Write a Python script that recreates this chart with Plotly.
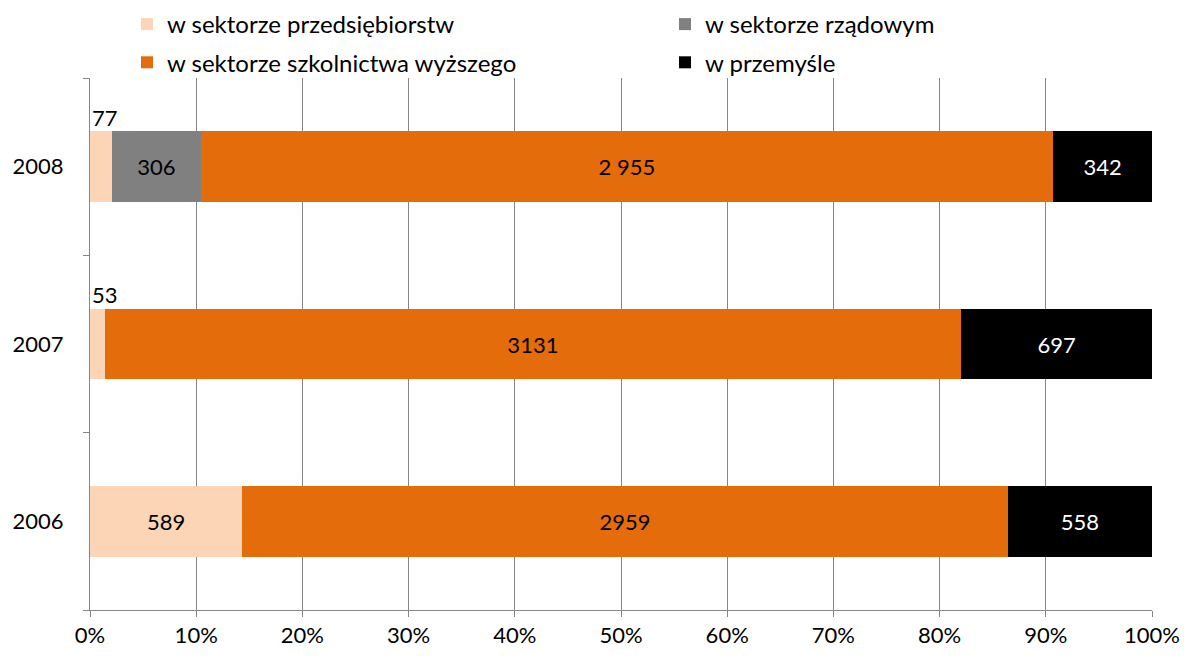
import plotly.graph_objects as go

years = ["2006", "2007", "2008"]

# number of units per sector
przedsiebiorstw = [589, 53, 77]
rzadowy = [0, 0, 306]
szkolnictwo = [2959, 3131, 2955]
przemysl = [558, 697, 342]

names = [
    "w sektorze przedsiębiorstw",
    "w sektorze rządowym",
    "w sektorze szkolnictwa wyższego",
    "w przemyśle",
]
colors = ["#FBD5B5", "#808080", "#E46C0A", "#000000"]

# labels printed inside the bars
przedsiebiorstw_inside = ["589", "", ""]
rzadowy_labels = ["", "", "306"]
szkolnictwo_labels = ["2959", "3131", "2 955"]
przemysl_labels = ["558", "697", "342"]

pct_ticks = list(range(0, 101, 10))
pct_labels = [f"{t}%" for t in pct_ticks]

FONT = "Lato, 'Open Sans', sans-serif"

series = [
    (przedsiebiorstw, przedsiebiorstw_inside, "#000000", "legend"),
    (rzadowy, rzadowy_labels, "#000000", "legend2"),
    (szkolnictwo, szkolnictwo_labels, "#000000", "legend"),
    (przemysl, przemysl_labels, "#FFFFFF", "legend2"),
]

ypos = list(range(len(years)))

fig = go.Figure()
for i, ((vals, labels, tcolor, leg), name, color) in enumerate(zip(series, names, colors)):
    fig.add_trace(go.Bar(
        y=ypos,
        x=vals,
        name=name,
        orientation="h",
        width=0.4,
        marker=dict(color=color, line=dict(width=0)),
        text=labels,
        textposition="inside",
        insidetextanchor="middle",
        textangle=0,
        textfont=dict(family=FONT, size=22, color=tcolor),
        legend=leg,
        legendgroup=f"g{i}",
        hoverinfo="skip",
    ))

# small shares are labelled above the bar start
for yy, v, inside in zip(ypos, przedsiebiorstw, przedsiebiorstw_inside):
    if not inside:
        fig.add_annotation(
            x=0, y=yy, xref="x", yref="y",
            text=str(v), showarrow=False,
            xanchor="left", yanchor="bottom", yshift=34, xshift=0,
            font=dict(family=FONT, size=22, color="#000000"),
        )

legend_common = dict(
    orientation="v",
    yanchor="top",
    font=dict(family=FONT, size=24, color="#000000"),
    traceorder="grouped",
    tracegroupgap=4,
    bgcolor="rgba(0,0,0,0)",
    itemclick=False,
)

fig.update_layout(
    width=1184,
    height=662,
    barmode="stack",
    barnorm="percent",
    paper_bgcolor="white",
    plot_bgcolor="white",
    margin=dict(l=90, r=32, t=78, b=52, autoexpand=False),
    font=dict(family=FONT, size=22, color="#000000"),
    uniformtext=dict(mode="show", minsize=8),
    legend=dict(x=(147 - 90 - 20) / 1062, y=1 + 76 / 532, xanchor="left", **legend_common),
    legend2=dict(x=(685 - 90 - 20) / 1062, y=1 + 76 / 532, xanchor="left", **legend_common),
    showlegend=True,
    xaxis=dict(
        range=[0, 100],
        tickvals=pct_ticks,
        ticktext=pct_labels,
        showgrid=True,
        gridcolor="#868686",
        gridwidth=1,
        showline=True,
        linecolor="#868686",
        linewidth=1,
        ticks="outside",
        ticklen=6,
        tickcolor="#868686",
        tickfont=dict(family=FONT, size=22, color="#000000"),
        zeroline=False,
        fixedrange=True,
    ),
    yaxis=dict(
        range=[-0.5, len(years) - 0.5],
        tickvals=ypos,
        ticktext=years,
        ticks="",
        showgrid=False,
        showline=True,
        linecolor="#868686",
        linewidth=1,
        ticklabelstandoff=21,
        tickfont=dict(family=FONT, size=22, color="#000000"),
        zeroline=False,
        fixedrange=True,
    ),
    # boundary tick marks between the year rows
    yaxis2=dict(
        overlaying="y",
        side="left",
        matches="y",
        tickvals=[p - 0.5 for p in ypos] + [ypos[-1] + 0.5],
        ticktext=["" for _ in range(len(ypos) + 1)],
        ticks="outside",
        ticklen=6,
        tickcolor="#868686",
        showgrid=False,
        showline=False,
        zeroline=False,
        fixedrange=True,
    ),
)

# invisible trace so the boundary-tick axis is drawn
fig.add_trace(go.Scatter(
    x=[None], y=[None], yaxis="y2", showlegend=False, hoverinfo="skip",
))

fig.write_html("out.html")
